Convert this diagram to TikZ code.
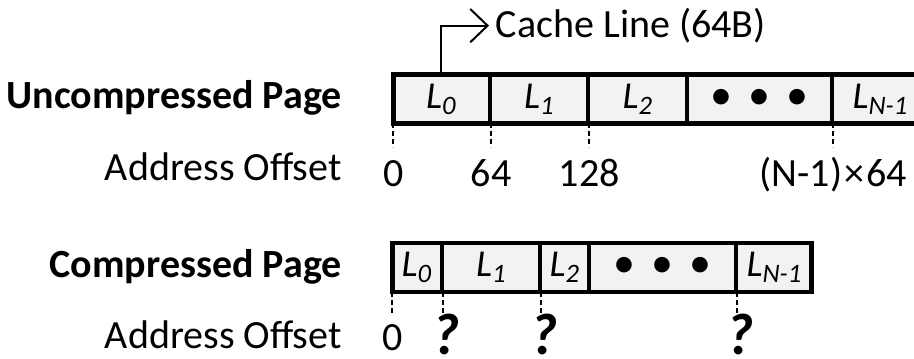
\documentclass[tikz,border=0pt]{standalone}
\usepackage{fontspec}
\setmainfont{Carlito}
\usetikzlibrary{positioning,matrix,arrows.meta}
\definecolor{cellgray}{HTML}{F2F2F2}

\begin{document}
\begin{tikzpicture}[x=0.75pt,y=-0.75pt,
  lbl/.style={font=\fontsize{30}{34}\selectfont,inner sep=0pt},
  hdr/.style={lbl,font=\fontsize{30}{34}\selectfont\bfseries},
  cell/.style={draw,line width=1.5pt,fill=cellgray,inner sep=0pt,outer sep=0pt,
    minimum height=36.5pt,anchor=center,font=\fontsize{28.5}{34}\selectfont\itshape},
  dots/.style={font=\fontsize{33}{34}\selectfont},
  frame/.style={line width=3.4pt},
  tick/.style={line width=1.4pt,dash pattern=on 3.5pt off 2.5pt},
  qmark/.style={font=\fontsize{44}{46}\selectfont\bfseries\itshape,inner sep=0pt,anchor=base},
  >={Straight Barb[length=13pt,width=25pt]}]
\useasboundingbox (0,0) rectangle (914,358);

% row titles
\node[hdr,anchor=base east] (utitle) at (342,108) {Uncompressed Page};
\node[lbl,anchor=base east] (uaddr) at (342,180) {Address Offset};
\node[hdr,anchor=base east] (ctitle) at (342,277) {Compressed Page};
\node[lbl,anchor=base east] (caddr) at (342,348) {Address Offset};

% uncompressed page
\matrix[matrix of nodes,column sep=0pt,inner sep=0pt,anchor=west,nodes={cell}] (upg) at (392,99)
{
|[minimum width=72pt]| L\textsubscript{0} & |[minimum width=72pt]| L\textsubscript{1} &
|[minimum width=72.75pt]| L\textsubscript{2} & |[minimum width=107.25pt,dots]| •\hspace{0.37em}•\hspace{0.37em}• &
|[minimum width=70.5pt]| L\textsubscript{N-1} \\
};
\draw[frame] (upg-1-1.north west) rectangle (upg-1-5.south east);

\coordinate (urow) at (0,186);
\foreach \c/\v in {1/0,2/64,3/128,5/{(N-1)\kern1.5pt×\kern1.5pt64}}
{
  \draw[tick] (upg-1-\c.south west) -- ++(0,24);
  \node[lbl,anchor=base] (uoff\c) at (upg-1-\c.south west |- urow) {\v};
}

\node[lbl,anchor=base west,inner xsep=5pt] (cline) at (489,37.5) {Cache Line (64B)};
\draw[->,line width=1.5pt] (upg-1-1.north) |- (cline.west);

% compressed page
\matrix[matrix of nodes,column sep=0pt,inner sep=0pt,anchor=west,nodes={cell}] (cpg) at (391,267.5)
{
|[minimum width=36.75pt]| L\textsubscript{0} & |[minimum width=72pt]| L\textsubscript{1} &
|[minimum width=35.25pt]| L\textsubscript{2} & |[minimum width=108.75pt,dots]| •\hspace{0.37em}•\hspace{0.37em}• &
|[minimum width=55.5pt]| L\textsubscript{N-1} \\
};
\draw[frame] (cpg-1-1.north west) rectangle (cpg-1-5.south east);

\coordinate (crow) at (0,350);
\coordinate (qrow) at (0,354);
\draw[tick] (cpg-1-1.south west) -- ++(0,21);
\node[lbl,anchor=base] (coff1) at (cpg-1-1.south west |- crow) {0};
\foreach \c in {2,3,5}
{
  \draw[tick] (cpg-1-\c.south west) -- ++(0,21);
  \node[qmark,xshift=2pt] (cq\c) at (cpg-1-\c.south west |- qrow) {?};
}
\end{tikzpicture}
\end{document}
